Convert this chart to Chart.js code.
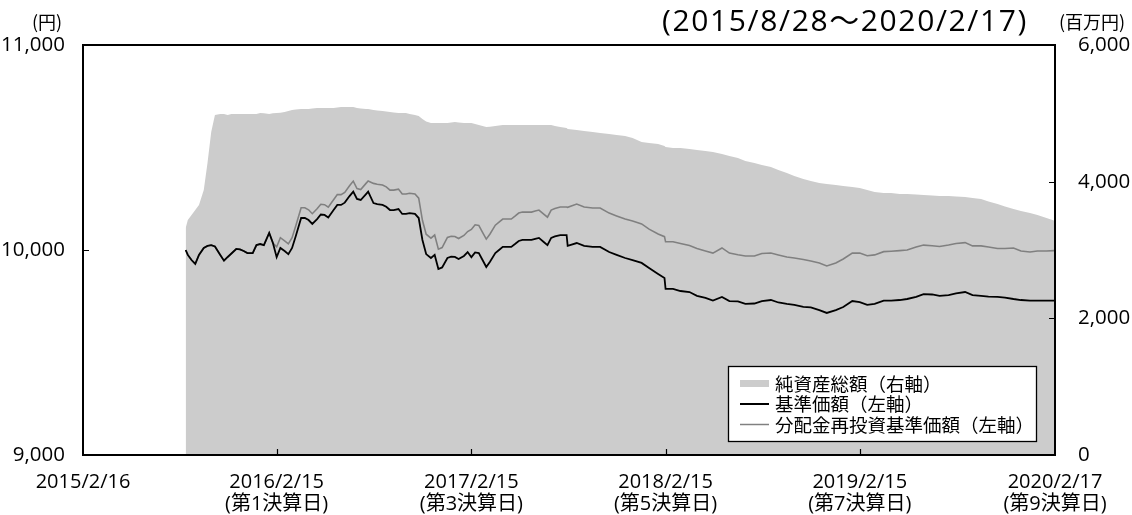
<!DOCTYPE html>
<html><head><meta charset="utf-8">
<script src="https://cdn.jsdelivr.net/npm/chart.js@4.4.1/dist/chart.umd.min.js"></script>
<style>html,body{margin:0;padding:0;background:#fff;}#wrap{width:1132px;height:515px;position:relative;}</style>
</head><body><div id="wrap"><canvas id="c" width="1132" height="515"></canvas></div>
<script>
const dates = [
 '2015-08-28','2015-09-01','2015-09-08','2015-09-15','2015-09-22','2015-10-01','2015-10-08','2015-10-15','2015-10-22','2015-11-01','2015-11-08','2015-11-15','2015-11-22','2015-12-01','2015-12-08','2015-12-15','2015-12-22',
 '2016-01-01','2016-01-08','2016-01-15','2016-01-22','2016-02-01','2016-02-08','2016-02-15','2016-02-22','2016-03-01','2016-03-08','2016-03-15','2016-03-22',
 '2016-04-01','2016-04-08','2016-04-15','2016-04-22','2016-05-01','2016-05-08','2016-05-15','2016-05-22','2016-06-01','2016-06-08','2016-06-15','2016-06-22',
 '2016-07-01','2016-07-08','2016-07-15','2016-07-22','2016-08-01','2016-08-05','2016-08-15','2016-08-22','2016-09-01','2016-09-08','2016-09-15','2016-09-22',
 '2016-10-01','2016-10-08','2016-10-15','2016-10-22','2016-11-01','2016-11-08','2016-11-15','2016-11-22','2016-12-01','2016-12-08','2016-12-15','2016-12-22',
 '2017-01-01','2017-01-08','2017-01-15','2017-01-22','2017-02-01','2017-02-08','2017-02-15','2017-02-22','2017-03-01','2017-03-08','2017-03-15','2017-03-22',
 '2017-04-01','2017-04-08','2017-04-15','2017-04-22','2017-05-01','2017-05-08','2017-05-15','2017-05-22','2017-06-01','2017-06-08','2017-06-15','2017-06-22',
 '2017-07-01','2017-07-08','2017-07-15','2017-07-22','2017-08-01','2017-08-13','2017-08-15','2017-09-01','2017-09-15','2017-10-01','2017-10-15','2017-11-01','2017-11-15','2017-12-01','2017-12-15',
 '2018-01-01','2018-01-15','2018-02-01','2018-02-13','2018-02-15','2018-03-01','2018-03-15','2018-04-01','2018-04-15','2018-05-01','2018-05-15','2018-06-01','2018-06-15','2018-07-01','2018-07-15','2018-08-01','2018-08-15','2018-09-01','2018-09-15','2018-10-01','2018-10-15','2018-11-01','2018-11-15','2018-12-01','2018-12-15',
 '2019-01-01','2019-01-15','2019-02-01','2019-02-15','2019-03-01','2019-03-15','2019-04-01','2019-04-15','2019-05-01','2019-05-15','2019-06-01','2019-06-15','2019-07-01','2019-07-15','2019-08-01','2019-08-15','2019-09-01','2019-09-15','2019-10-01','2019-10-15','2019-11-01','2019-11-15','2019-12-01','2019-12-15',
 '2020-01-01','2020-01-15','2020-02-01','2020-02-15','2020-02-17'
];
// 基準価額（円）
const basePrice = [
 10000,9976,9951,9932,9976,10010,10020,10024,10017,9976,9948,9966,9983,10005,10003,9995,9985,
 9985,10024,10029,10024,10083,10034,9965,10010,9995,9980,10010,10068,
 10156,10156,10146,10127,10151,10173,10171,10159,10195,10220,10220,10231,
 10263,10285,10249,10244,10273,10285,10229,10224,10220,10211,10195,10195,
 10200,10176,10176,10180,10176,10156,10049,9980,9961,9976,9907,9915,
 9961,9967,9966,9956,9971,9990,9965,9988,9985,9951,9917,9943,
 9985,10000,10015,10015,10015,10029,10044,10049,10049,10049,10054,10059,
 10039,10024,10059,10066,10073,10073,10020,10034,10020,10015,10015,9990,9976,9961,9951,
 9937,9912,9883,9863,9810,9810,9800,9795,9776,9766,9753,9771,9751,9749,9737,9739,9751,9756,9744,9737,9732,9723,9720,9707,9693,
 9707,9722,9751,9746,9732,9737,9753,9753,9756,9761,9771,9785,9783,9776,9780,9788,9795,9780,9776,9773,9771,9768,9761,9756,
 9753,9753,9753,9753,9753
];
// 分配金再投資基準価額（円）
const reinvPrice = [
 10000,9976,9951,9932,9976,10010,10020,10024,10017,9976,9948,9966,9983,10005,10003,9995,9985,
 9985,10024,10029,10024,10083,10034,10015,10060,10045,10030,10060,10118,
 10206,10206,10196,10177,10201,10223,10221,10209,10245,10270,10270,10281,
 10313,10336,10300,10295,10325,10337,10325,10321,10317,10308,10292,10292,
 10297,10273,10273,10277,10273,10253,10145,10077,10058,10073,10004,10012,
 10061,10067,10066,10056,10071,10090,10100,10123,10120,10086,10053,10078,
 10121,10136,10151,10151,10151,10165,10180,10185,10185,10185,10190,10195,
 10175,10160,10195,10202,10210,10210,10208,10224,10210,10205,10205,10180,10166,10151,10141,
 10127,10102,10078,10065,10040,10040,10032,10022,10007,9995,9985,10010,9985,9977,9971,9971,9983,9985,9976,9966,9961,9954,9946,9937,9922,
 9937,9956,9985,9985,9972,9976,9992,9994,9997,10000,10015,10024,10021,10017,10024,10032,10036,10020,10020,10015,10007,10007,10010,9995,
 9990,9995,9995,9997,9997
];
// 純資産総額（百万円）
const netAssets = [
 3322,3439,3512,3585,3659,3878,4273,4727,4976,4990,4990,4976,4990,4990,4990,4990,4990,
 4990,4990,5005,5000,4990,5000,5005,5010,5020,5035,5049,5055,
 5063,5063,5063,5070,5078,5078,5078,5078,5078,5085,5093,5093,
 5093,5093,5078,5070,5063,5063,5049,5040,5034,5027,5020,5012,
 5005,5005,5005,4990,4976,4960,4917,4880,4859,4859,4859,4859,
 4859,4866,4873,4866,4859,4859,4859,4845,4829,4815,4800,4805,
 4815,4822,4829,4829,4829,4829,4829,4829,4829,4829,4829,4829,
 4829,4829,4829,4815,4800,4785,4771,4756,4741,4727,4712,4698,4683,4668,4639,
 4580,4566,4551,4522,4507,4493,4493,4478,4463,4449,4434,4405,4376,4346,4302,4273,4244,4215,4171,4127,4083,4039,4010,3980,3966,
 3951,3937,3922,3907,3878,3849,3834,3834,3820,3820,3812,3805,3798,3790,3790,3783,3776,3761,3746,3710,3673,3637,3600,3571,
 3541,3512,3468,3432,3424
];
const axisStart = '2015-02-16';
const axisEnd = '2020-02-17';
const tickDates = ['2015-02-16','2016-02-15','2017-02-15','2018-02-15','2019-02-15','2020-02-17'];
const tickLabels = [['2015/2/16'],['2016/2/15','(第1決算日)'],['2017/2/15','(第3決算日)'],['2018/2/15','(第5決算日)'],['2019/2/15','(第7決算日)'],['2020/2/17','(第9決算日)']];
const leftTicks = [9000,10000,11000];
const rightTicks = [0,2000,4000,6000];
const seriesNames = ['純資産総額（右軸）','基準価額（左軸）','分配金再投資基準価額（左軸）'];
const titleText = '(2015/8/28～2020/2/17)';
const leftUnit = '(円)';
const rightUnit = '(百万円)';

const FONT = '"Open Sans","Noto Sans CJK JP",sans-serif';
const CJK = '"Noto Sans CJK JP","Open Sans",sans-serif';
function dayOf(s){const [y,m,d]=s.split('-').map(Number);const [y0,m0,d0]=axisStart.split('-').map(Number);return (Date.UTC(y,m-1,d)-Date.UTC(y0,m0-1,d0))/86400000;}
const xs = dates.map(dayOf);
const tickDays = tickDates.map(dayOf);
const pts = arr => arr.map((v,i)=>({x:xs[i],y:v}));

const deco = {
  id:'deco',
  afterDatasetsDraw(chart){
    const ctx=chart.ctx, a=chart.chartArea, sx=chart.scales.x, sy=chart.scales.y, sy1=chart.scales.y1;
    ctx.save();
    ctx.strokeStyle='#000'; ctx.lineWidth=1.2;
    ctx.beginPath();
    tickDays.slice(1,-1).forEach(d=>{const x=Math.round(sx.getPixelForValue(d))+0.5;ctx.moveTo(x,a.bottom);ctx.lineTo(x,a.bottom-6);});
    leftTicks.slice(1,-1).forEach(v=>{const y=Math.round(sy.getPixelForValue(v))+0.5;ctx.moveTo(a.left,y);ctx.lineTo(a.left+6,y);});
    rightTicks.slice(1,-1).forEach(v=>{const y=Math.round(sy1.getPixelForValue(v))+0.5;ctx.moveTo(a.right,y);ctx.lineTo(a.right-6,y);});
    ctx.stroke();
    ctx.lineWidth=2;
    ctx.strokeRect(a.left,a.top,a.right-a.left,a.bottom-a.top);
    ctx.restore();
  },
  afterDraw(chart){
    const ctx=chart.ctx;
    ctx.save();
    // legend
    ctx.fillStyle='#fff'; ctx.fillRect(728.5,366.5,308,75);
    ctx.strokeStyle='#000'; ctx.lineWidth=1.3; ctx.strokeRect(728.5,366.5,308,75);
    ctx.fillStyle='#cccccc'; ctx.fillRect(740,380,29,7);
    ctx.strokeStyle='#000'; ctx.lineWidth=2; ctx.beginPath(); ctx.moveTo(740,404); ctx.lineTo(769,404); ctx.stroke();
    ctx.strokeStyle='#808080'; ctx.lineWidth=1.5; ctx.beginPath(); ctx.moveTo(740,424.5); ctx.lineTo(769,424.5); ctx.stroke();
    ctx.fillStyle='#000'; ctx.font='18.5px '+CJK; ctx.textBaseline='middle'; ctx.textAlign='left';
    ctx.fillText(seriesNames[0],775,383.5);
    ctx.fillText(seriesNames[1],775,404);
    ctx.fillText(seriesNames[2],775,424.5);
    // units
    ctx.font='18px '+CJK; ctx.textAlign='center';
    ctx.fillText(leftUnit,47,22);
    ctx.fillText(rightUnit,1092,22);
    // title
    ctx.font='30px '+FONT; ctx.textAlign='left';
    const w=ctx.measureText(titleText).width;
    const target=366;
    if ('letterSpacing' in ctx){ ctx.letterSpacing=Math.max(0,(target-w)/titleText.length)+'px'; }
    ctx.fillText(titleText,662,22);
    ctx.restore();
  }
};

new Chart(document.getElementById('c'),{
  type:'line',
  data:{datasets:[
    {label:seriesNames[0],data:pts(netAssets),yAxisID:'y1',fill:'origin',backgroundColor:'#cccccc',borderColor:'rgba(0,0,0,0)',borderWidth:0,pointRadius:0,tension:0,order:3},
    {label:seriesNames[2],data:pts(reinvPrice),yAxisID:'y',fill:false,borderColor:'#808080',borderWidth:1.6,pointRadius:0,tension:0,order:2},
    {label:seriesNames[1],data:pts(basePrice),yAxisID:'y',fill:false,borderColor:'#000000',borderWidth:1.8,pointRadius:0,tension:0,order:1}
  ]},
  options:{
    responsive:false,animation:false,devicePixelRatio:1,
    layout:{padding:{top:45,left:0,right:0,bottom:0}},
    plugins:{legend:{display:false},tooltip:{enabled:false}},
    scales:{
      x:{type:'linear',min:0,max:dayOf(axisEnd),
        afterBuildTicks:s=>{s.ticks=tickDays.map(v=>({value:v}));},
        afterFit:s=>{s.height=60;},
        grid:{display:false},border:{display:false},
        ticks:{autoSkip:false,maxRotation:0,minRotation:0,padding:8,color:'#000',font:{family:FONT,size:20,lineHeight:1.1},
          callback:(v)=>{const i=tickDays.indexOf(v);return i>=0?tickLabels[i]:'';}}},
      y:{position:'left',min:9000,max:11000,
        afterBuildTicks:s=>{s.ticks=leftTicks.map(v=>({value:v}));},
        afterFit:s=>{s.width=83;},
        grid:{display:false},border:{display:false},
        ticks:{padding:10,color:'#000',font:{family:FONT,size:20.5},callback:v=>v.toLocaleString('en-US')}},
      y1:{position:'right',min:0,max:6000,
        afterBuildTicks:s=>{s.ticks=rightTicks.map(v=>({value:v}));},
        afterFit:s=>{s.width=77;},
        grid:{display:false},border:{display:false},
        ticks:{padding:15,color:'#000',font:{family:FONT,size:20.5},callback:v=>v.toLocaleString('en-US')}}
    }
  },
  plugins:[deco]
});
</script></body></html>
